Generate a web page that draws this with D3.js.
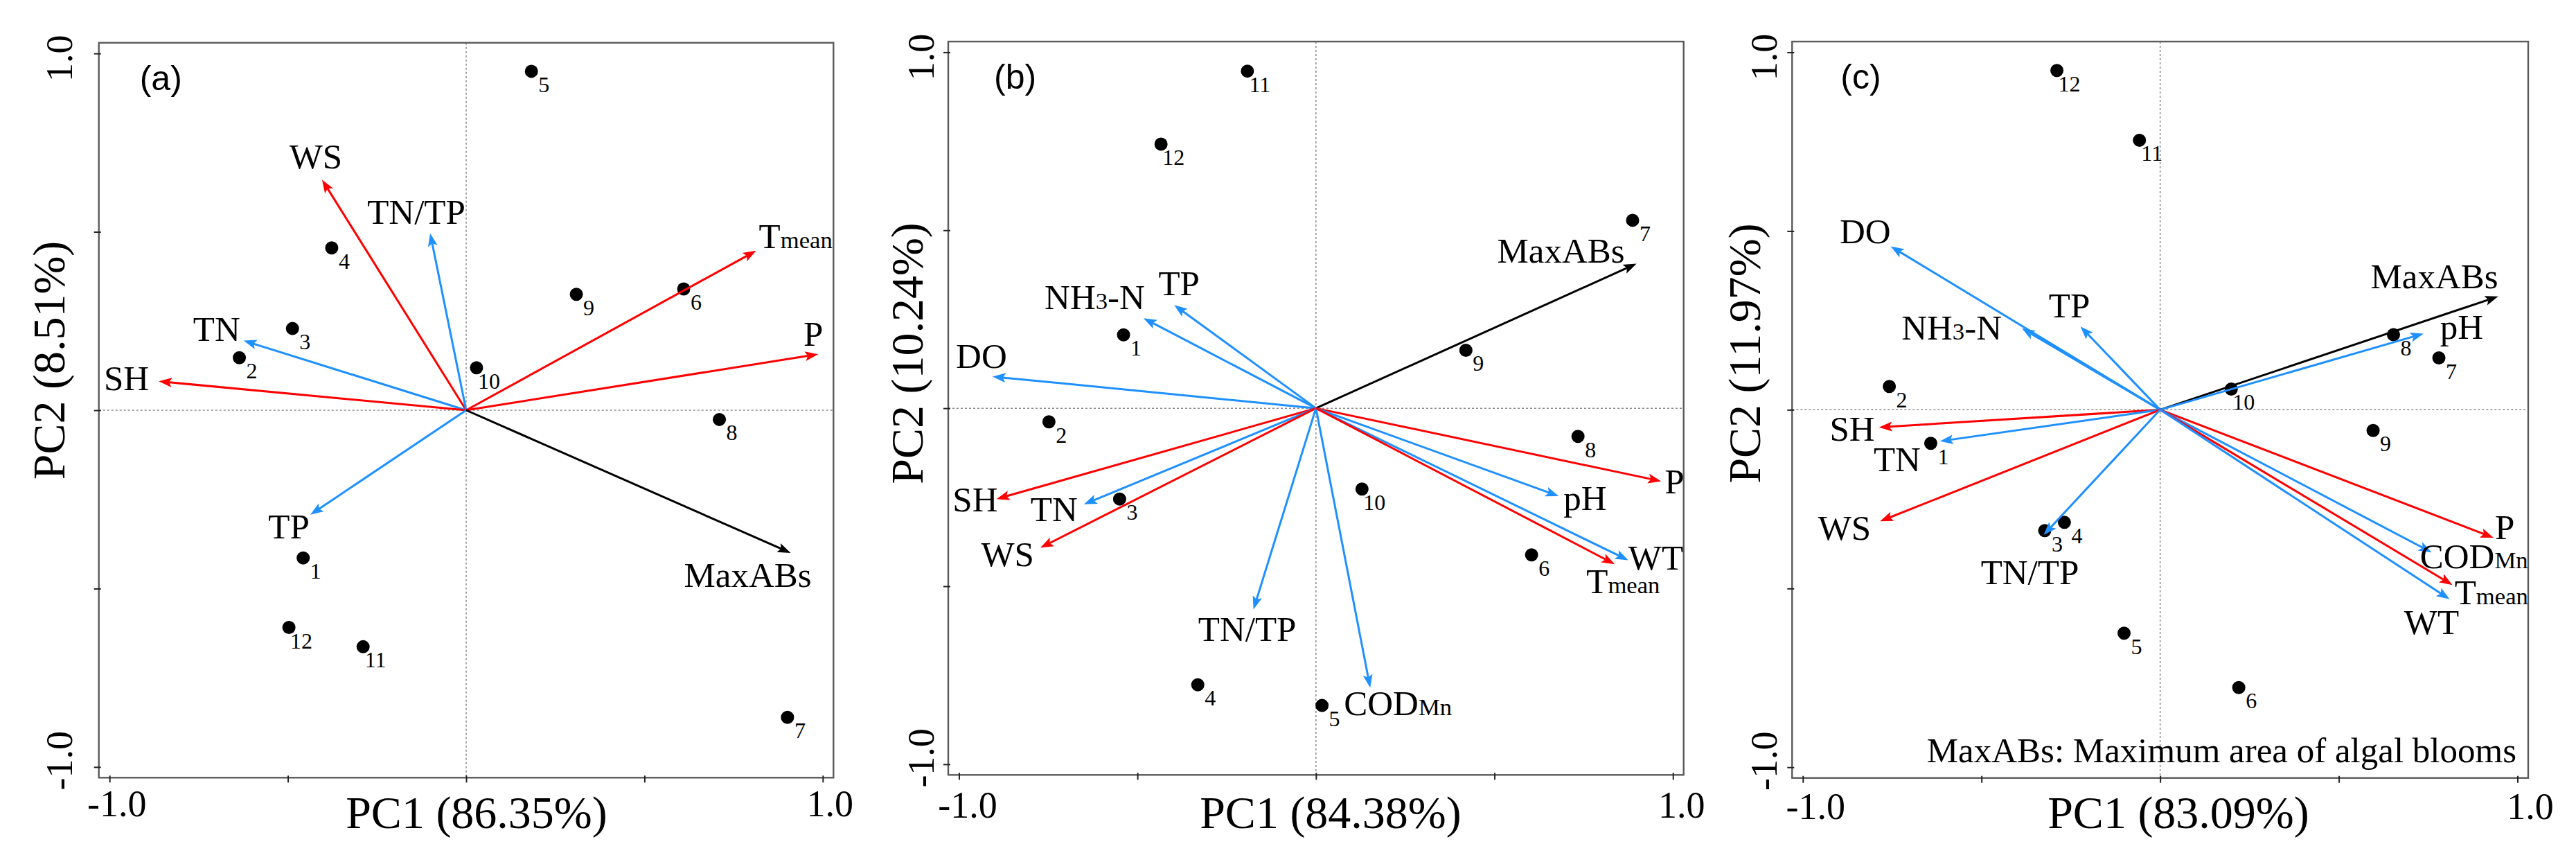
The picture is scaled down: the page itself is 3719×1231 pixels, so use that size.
<!DOCTYPE html>
<html>
<head>
<meta charset="utf-8">
<script src="https://cdn.jsdelivr.net/npm/d3@7/dist/d3.min.js"></script>
<style>
  body { margin: 0; background: #fff; }
  text { font-family: "Liberation Serif", "Times New Roman", serif; fill: #000; }
  .letter { font-family: "Liberation Sans", Arial, sans-serif; }
</style>
</head>
<body>
<div class="chart"></div>
<script>
// ---- data (PCA biplot scores) ----
const panelNames = ['(a)', '(b)', '(c)'];
const pc1Labels = ['PC1 (86.35%)', 'PC1 (84.38%)', 'PC1 (83.09%)'];
const pc2Labels = ['PC2 (8.51%)', 'PC2 (10.24%)', 'PC2 (11.97%)'];
const tickValues = [-1, -0.5, 0, 0.5, 1];
const footnote = 'MaxABs: Maximum area of algal blooms';

// sites 1..12 : [PC1, PC2]
const siteIds = [1, 2, 3, 4, 5, 6, 7, 8, 9, 10, 11, 12];
const sitesA = [[-0.457,-0.414],[-0.636,0.147],[-0.487,0.229],[-0.377,0.455],[0.183,0.950],[0.610,0.340],
                [0.901,-0.861],[0.710,-0.026],[0.309,0.325],[0.029,0.119],[-0.289,-0.663],[-0.497,-0.609]];
const sitesB = [[-0.539,0.206],[-0.748,-0.038],[-0.550,-0.255],[-0.331,-0.777],[0.017,-0.835],[0.604,-0.412],
                [0.887,0.528],[0.734,-0.079],[0.420,0.163],[0.129,-0.227],[-0.192,0.947],[-0.434,0.742]];
const sitesC = [[-0.642,-0.094],[-0.758,0.065],[-0.323,-0.338],[-0.268,-0.315],[-0.101,-0.625],[0.220,-0.777],
                [0.780,0.145],[0.653,0.210],[0.596,-0.058],[0.199,0.058],[-0.058,0.754],[-0.289,0.949]];

// variable loadings : name -> [PC1, PC2]   ({..} marks subscript text)
const varsA = ['WS', 'TN/TP', 'T{mean}', 'P', 'TN', 'SH', 'TP', 'MaxABs'];
const loadA = [[-0.404,0.646],[-0.101,0.496],[0.813,0.447],[0.987,0.157],[-0.624,0.195],[-0.862,0.081],[-0.437,-0.293],[0.910,-0.400]];
const varsB = ['MaxABs', 'TP', 'NH{3}-N', 'DO', 'SH', 'TN', 'WS', 'TN/TP', 'COD{Mn}', 'P', 'pH', 'WT', 'T{mean}'];
const loadB = [[0.898,0.406],[-0.397,0.290],[-0.483,0.253],[-0.906,0.089],[-0.895,-0.255],[-0.650,-0.270],[-0.772,-0.392],
               [-0.175,-0.565],[0.152,-0.785],[0.967,-0.205],[0.680,-0.247],[0.875,-0.427],[0.837,-0.438]];
const varsC = ['DO', 'NH{3}-N', 'TP', 'MaxABs', 'pH', 'SH', 'TN', 'WS', 'TN/TP', 'P', 'COD{Mn}', 'T{mean}', 'WT'];
const loadC = [[-0.754,0.457],[-0.387,0.228],[-0.223,0.233],[0.946,0.317],[0.737,0.213],[-0.787,-0.049],[-0.616,-0.088],
               [-0.784,-0.312],[-0.326,-0.350],[0.933,-0.358],[0.760,-0.399],[0.818,-0.490],[0.810,-0.530]];

// climate variables red, water quality blue, response black
const climateVars = ['WS', 'SH', 'P', 'T{mean}'];
const responseVars = ['MaxABs'];

// ---- layout (label placement relative to arrow tip: anchor, dx, dy) ----
const labelPos = [
  { 'WS':['middle',-9,-16], 'TN/TP':['middle',-20,-14], 'T{mean}':['start',4,-4], 'P':['middle',-7,-12],
    'TN':['end',-5,0], 'SH':['end',-14,13], 'TP':['middle',-31,34], 'MaxABs':['middle',-62,49] },
  { 'MaxABs':['end',-17,-2], 'TP':['middle',7,-14], 'NH{3}-N':['end',2,-13], 'DO':['middle',-16,-12],
    'SH':['end',2,18], 'TN':['end',-9,24], 'WS':['end',-9,26], 'TN/TP':['middle',-9,46],
    'COD{Mn}':['start',-38,40], 'P':['start',5,18], 'pH':['start',7,20], 'WT':['start',0,13], 'T{mean}':['start',-41,42] },
  { 'DO':['end',0,-5], 'NH{3}-N':['end',-29,16], 'TP':['middle',-16,-13], 'MaxABs':['end',0,-12],
    'pH':['start',24,8], 'SH':['end',-6,19], 'TN':['end',-28,43], 'WS':['end',-13,27], 'TN/TP':['middle',-20,71],
    'P':['start',2,2], 'COD{Mn}':['start',-17,23], 'T{mean}':['start',3,28], 'WT':['middle',-26,50] }
];

const frames = [
  { left: 142.7, top: 61.7, w: 1060.6, h: 1060.6, tickLab: 56, tickDx: 10, yLabX: -39, yTitleX: -50, yTitleY: 520, xTitleX: 688, letterDx: 59 },
  { left: 1369, top: 60, w: 1061.7, h: 1058.3, tickLab: 62, tickDx: 12, yLabX: -21, yTitleX: -37, yTitleY: 510, xTitleX: 1921, letterDx: 66 },
  { left: 2587.3, top: 60, w: 1062.7, h: 1062.7, tickLab: 59, tickDx: 18, yLabX: -22, yTitleX: -46, yTitleY: 510, xTitleX: 3145, letterDx: 70 }
];

const panels = [
  { sites: sitesA, vars: varsA, loads: loadA },
  { sites: sitesB, vars: varsB, loads: loadB },
  { sites: sitesC, vars: varsC, loads: loadC }
];

const RED = '#ff0000', BLUE = '#1e90ff', BLACK = '#000000';
function colorOf(v) {
  if (climateVars.includes(v)) return RED;
  if (responseVars.includes(v)) return BLACK;
  return BLUE;
}

const svg = d3.select('.chart').append('svg')
  .attr('width', 3719).attr('height', 1231);

// writes "T{mean}" style labels as tspans
function addLabel(sel, str, size) {
  const parts = str.split(/(\{[^}]*\})/).filter(s => s.length);
  parts.forEach(p => {
    if (p[0] === '{') {
      sel.append('tspan').attr('font-size', size * 0.68).text(p.slice(1, -1));
    } else {
      sel.append('tspan').attr('font-size', size).text(p);
    }
  });
}

panels.forEach((p, i) => {
  const f = frames[i];
  const x = d3.scaleLinear().domain([-1.03, 1.03]).range([f.left, f.left + f.w]);
  const y = d3.scaleLinear().domain([-1.03, 1.03]).range([f.top + f.h, f.top]);
  const g = svg.append('g');

  // zero reference lines
  g.append('line').attr('x1', f.left).attr('x2', f.left + f.w).attr('y1', y(0)).attr('y2', y(0))
    .style('stroke', '#8a8a8a').style('stroke-width', 1.5).style('stroke-dasharray', '3,3');
  g.append('line').attr('x1', x(0)).attr('x2', x(0)).attr('y1', f.top).attr('y2', f.top + f.h)
    .style('stroke', '#8a8a8a').style('stroke-width', 1.5).style('stroke-dasharray', '3,3');

  // frame
  g.append('rect').attr('x', f.left).attr('y', f.top).attr('width', f.w).attr('height', f.h)
    .style('fill', 'none').style('stroke', '#5a5a5a').style('stroke-width', 2.4);

  // axes
  const fmt = d => (Math.abs(d) === 1 ? d.toFixed(1) : '');
  const xa = g.append('g').attr('transform', `translate(0,${f.top + f.h})`)
    .call(d3.axisBottom(x).tickValues(tickValues).tickSize(7).tickSizeOuter(0).tickFormat(fmt));
  xa.select('.domain').remove();
  xa.selectAll('.tick line').attr('y1', -3).style('stroke', '#222').style('stroke-width', 2);
  xa.selectAll('.tick text')
    .attr('y', f.tickLab).attr('dy', 0).attr('dx', f.tickDx)
    .style('font-family', '"Liberation Serif", serif').style('font-size', '54px').style('fill', '#000');

  const ya = g.append('g').attr('transform', `translate(${f.left},0)`)
    .call(d3.axisLeft(y).tickValues(tickValues).tickSize(7).tickSizeOuter(0).tickFormat(''));
  ya.select('.domain').remove();
  ya.selectAll('.tick line').attr('x1', 3).style('stroke', '#222').style('stroke-width', 2);
  g.selectAll('.ylab').data([-1, 1]).join('text')
    .attr('transform', d => `translate(${f.left + f.yLabX},${y(d) + (d > 0 ? 7 : -9)}) rotate(-90)`)
    .attr('text-anchor', 'middle').style('font-size', '54px')
    .text(d => d.toFixed(1));

  // axis titles
  g.append('text').attr('x', f.xTitleX).attr('y', 1195).attr('text-anchor', 'middle')
    .style('font-size', '66px').text(pc1Labels[i]);
  g.append('text').attr('transform', `translate(${f.left + f.yTitleX},${f.yTitleY}) rotate(-90)`)
    .attr('text-anchor', 'middle').style('font-size', '66px').text(pc2Labels[i]);

  // panel letter
  g.append('text').attr('class', 'letter').attr('x', f.left + f.letterDx).attr('y', f.top + 68)
    .style('font-size', '50px').text(panelNames[i]);

  // site points
  const sites = p.sites.map((s, k) => ({ id: siteIds[k], pc1: s[0], pc2: s[1] }));
  g.selectAll('.site').data(sites).join('circle')
    .attr('cx', d => x(d.pc1)).attr('cy', d => y(d.pc2)).attr('r', 9.5).style('fill', '#000');
  g.selectAll('.siteLab').data(sites).join('text')
    .attr('x', d => x(d.pc1) + 18).attr('y', d => y(d.pc2) + 30)
    .attr('text-anchor', 'middle').style('font-size', '32px').text(d => d.id);

  // loadings arrows
  const vars = p.vars.map((v, k) => ({ name: v, pc1: p.loads[k][0], pc2: p.loads[k][1] }));
  const ox = x(0), oy = y(0);
  vars.forEach(v => {
    const tx = x(v.pc1), ty = y(v.pc2);
    const L = Math.hypot(tx - ox, ty - oy);
    const ux = (tx - ox) / L, uy = (ty - oy) / L;
    const nx = -uy, ny = ux;
    const hl = 19, hw = 7, notch = 4;
    const bx = tx - ux * hl, by = ty - uy * hl;
    const mx = tx - ux * (hl - notch), my = ty - uy * (hl - notch);
    const c = colorOf(v.name);
    g.append('line').attr('x1', ox).attr('y1', oy).attr('x2', mx).attr('y2', my)
      .style('stroke', c).style('stroke-width', 3);
    g.append('path')
      .attr('d', `M${tx},${ty}L${bx + nx * hw},${by + ny * hw}L${mx},${my}L${bx - nx * hw},${by - ny * hw}Z`)
      .style('fill', c);
    const lp = labelPos[i][v.name];
    const t = g.append('text').attr('x', tx + lp[1]).attr('y', ty + lp[2]).attr('text-anchor', lp[0]);
    addLabel(t, v.name, 51);
  });

  if (i === 2) {
    g.append('text').attr('x', 3633).attr('y', 1100).attr('text-anchor', 'end')
      .style('font-size', '51px').text(footnote);
  }
});
</script>
</body>
</html>
